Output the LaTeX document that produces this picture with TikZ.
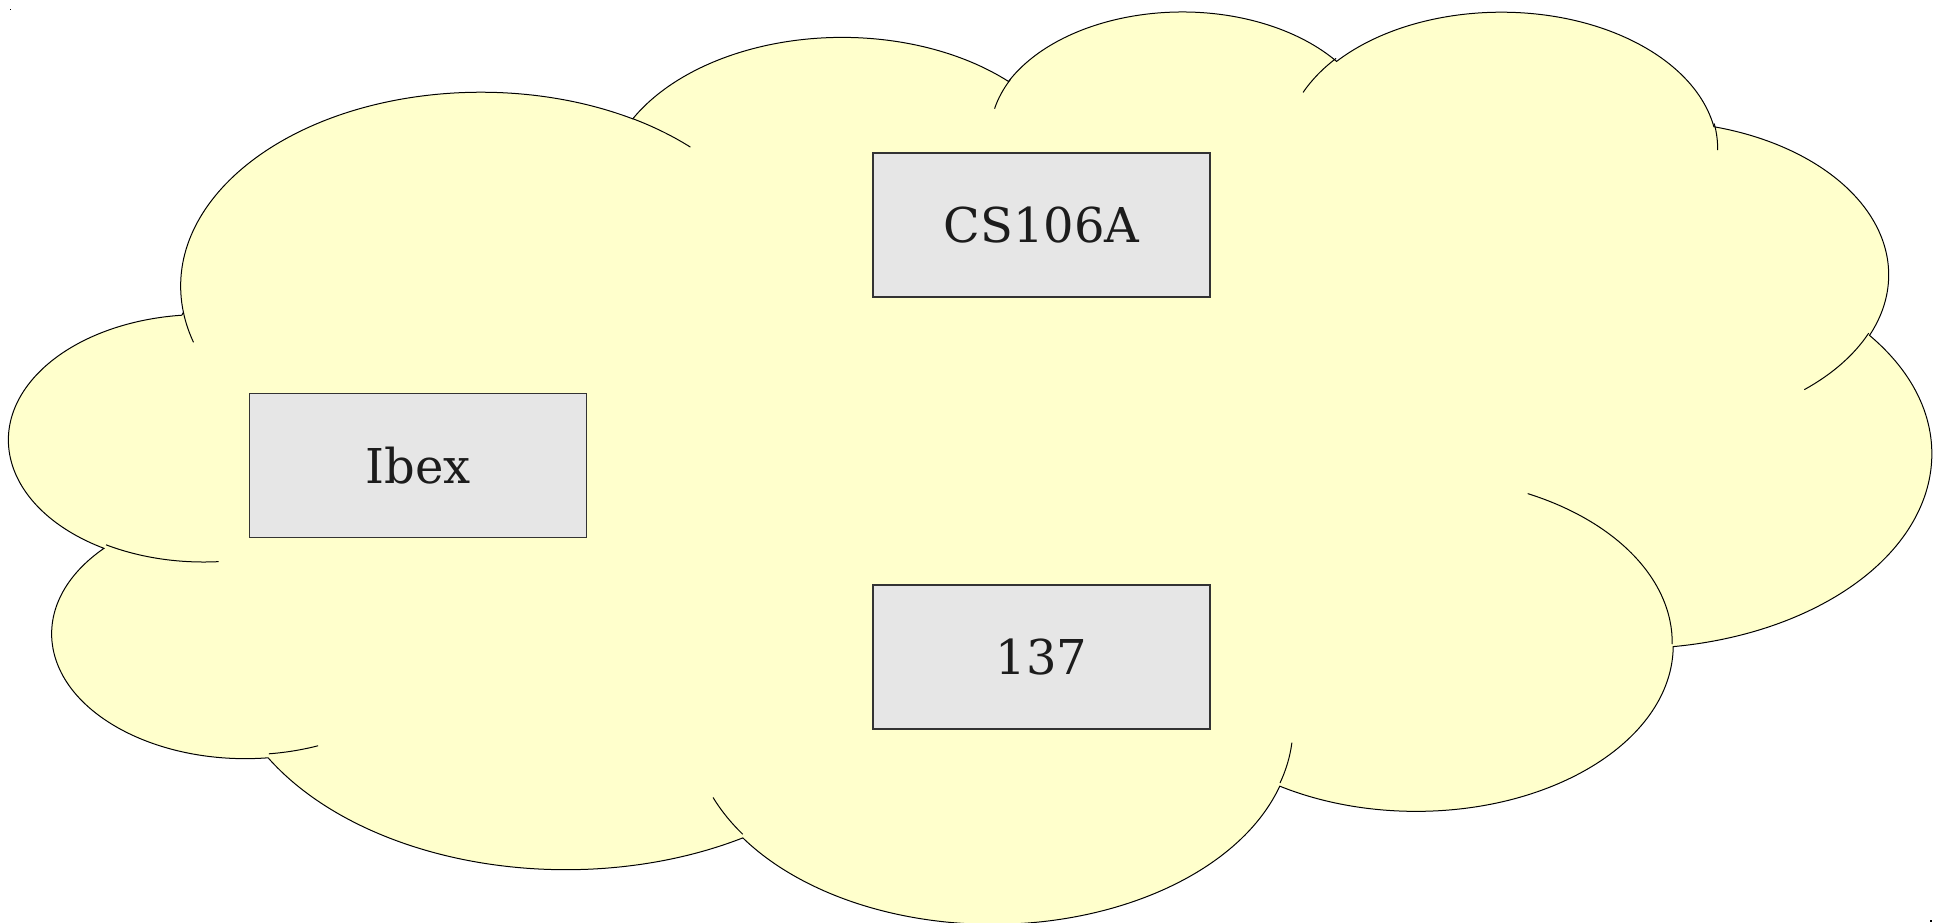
\documentclass[tikz,border=0pt]{standalone}
\usepackage{fontspec}
\setmainfont{DejaVu Serif}
\definecolor{puffyellow}{HTML}{FFFFCC}
\definecolor{boxgray}{HTML}{E6E6E6}
\definecolor{textgray}{HTML}{1C1C1C}

\begin{document}
\begin{tikzpicture}[x=1pt,y=-1pt,
  declare function={vis(\a,\p,\q)=\a+atan((\p-\q)*sin(\a)*cos(\a)/(\q*cos(\a)*cos(\a)+\p*sin(\a)*sin(\a)));},
  puff/.style={draw=black,line width=1pt,fill=puffyellow},
  box/.style={draw=black!80,line width=1.3pt,fill=boxgray,text=textgray,minimum width=337pt,minimum height=144pt,inner sep=0pt,font=\fontsize{48}{58}\selectfont}]
\useasboundingbox (0,0) rectangle (1945,922);
\fill (9.5,8.5) rectangle ++(1.5,1.5);
\fill (1930,920) rectangle ++(1.5,1.5);
% cloud outline, then the inner strokes
\begin{scope}[shift={(10pt,-9pt)},x=4.4468pt,y=-2.1111pt]
\path[puff] (39.00,143.70)
  \foreach \sa/\ea/\xr/\yr in {-190.4875/-66.7070/67.53/91.90,-144.1024/-54.1572/53.33/72.67,
    -145.8079/-46.0849/43.65/59.45,-130.9861/-13.7444/48.57/65.95,-78.7089/30.3180/53.33/72.73,
    -46.2673/84.0017/67.75/92.20,0.6250/114.6583/57.85/78.67,22.4516/137.6242/67.52/92.15,
    66.2426/141.9536/77.20/105.43,-274.9421/-128.2065/43.60/59.18,-246.8285/-94.3096/43.45/59.45}
  {arc[start angle={vis(\sa,\xr,\yr)},end angle={vis(\ea,\xr,\yr)},x radius=\xr,y radius=\yr]}
  -- cycle;
\draw[line width=1pt]
  \foreach \px/\py/\sa/\ea/\xr/\yr in {46.93/261.77/86.7420/113.1715/43.45/59.45,
    69.28/348.99/73.6105/85.0580/43.60/59.18,164.78/390.90/137.6242/151.7053/67.52/92.15,
    288.27/347.51/6.4533/22.4517/67.52/92.15,341.29/229.54/-70.2924/0.6250/57.85/78.67,
    417.98/153.54/30.3180/58.0695/53.33/72.73,383.24/54.26/-13.7443/1.1146/48.57/65.95,
    290.78/39.52/-149.1815/-130.9861/48.57/65.95,221.41/47.20/-163.4943/-145.8079/43.65/59.45,
    140.00/51.92/-66.7070/-54.3876/67.53/91.90,41.27/157.89/157.6544/169.5126/67.53/91.90}
  {(\px,\py) arc[start angle={vis(\sa,\xr,\yr)},end angle={vis(\ea,\xr,\yr)},x radius=\xr,y radius=\yr]};
\end{scope}
\node[box] (cs) at (1041.5,225) {CS106A};
\node[box] (ibex) at (418,465.5) {Ibex};
\node[box] (room) at (1041.5,657) {137};
\end{tikzpicture}
\end{document}
